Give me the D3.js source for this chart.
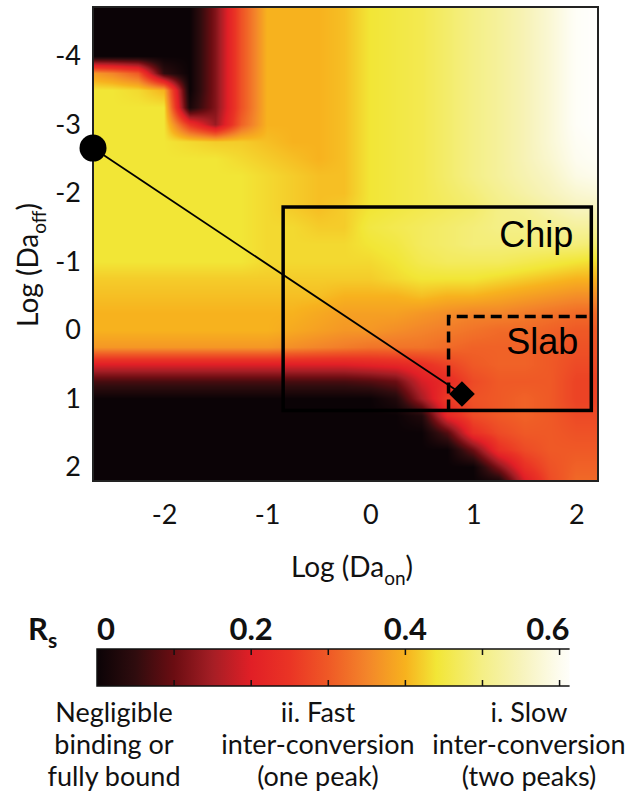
<!DOCTYPE html>
<html>
<head>
<meta charset="utf-8">
<script src="https://cdnjs.cloudflare.com/ajax/libs/d3/7.8.5/d3.min.js"></script>
<style>
  html, body { margin: 0; padding: 0; background: #fff; }
  svg { display: block; font-family: Lato, "Open Sans", sans-serif; }
</style>
</head>
<body>
<svg id="chart" width="634" height="799"></svg>
<script>
// grid nodes of the Rs map (log10 Da_on across, log10 Da_off down)
var logDaOn = [-2.75, -2.5, -2.25, -2, -1.75, -1.5, -1.25, -1, -0.75, -0.5, -0.25, 0, 0.25, 0.5, 0.75, 1, 1.25, 1.5, 1.75, 2, 2.25];
var logDaOff = [-4.75, -4.5, -4.25, -4, -3.75, -3.5, -3.25, -3, -2.75, -2.5, -2.25, -2, -1.75, -1.5, -1.25, -1, -0.75, -0.5, -0.25, 0, 0.25, 0.5, 0.75, 1, 1.25, 1.5, 1.75, 2, 2.25];
// Rs, one row per logDaOff node
var rsValues = [
  [0, 0, 0, 0, 0, 0.12, 0.29, 0.4, 0.4, 0.4, 0.41, 0.44, 0.45, 0.46, 0.48, 0.5, 0.52, 0.545, 0.575, 0.61, 0.62],
  [0, 0, 0, 0, 0, 0.12, 0.29, 0.4, 0.4, 0.4, 0.41, 0.44, 0.45, 0.46, 0.48, 0.5, 0.52, 0.545, 0.575, 0.61, 0.62],
  [0, 0, 0, 0, 0, 0.12, 0.29, 0.4, 0.4, 0.4, 0.41, 0.44, 0.45, 0.46, 0.48, 0.5, 0.52, 0.545, 0.575, 0.61, 0.62],
  [0, 0, 0, 0, 0, 0.12, 0.29, 0.4, 0.4, 0.4, 0.41, 0.44, 0.45, 0.46, 0.48, 0.5, 0.52, 0.545, 0.575, 0.61, 0.62],
  [0.38, 0.35, 0.3, 0.05, 0, 0.12, 0.29, 0.4, 0.4, 0.4, 0.41, 0.44, 0.45, 0.46, 0.48, 0.5, 0.52, 0.545, 0.575, 0.61, 0.62],
  [0.44, 0.44, 0.43, 0.4, 0, 0.12, 0.29, 0.4, 0.4, 0.4, 0.41, 0.44, 0.45, 0.46, 0.48, 0.5, 0.52, 0.545, 0.575, 0.61, 0.62],
  [0.44, 0.44, 0.44, 0.44, 0.02, 0.12, 0.29, 0.4, 0.4, 0.4, 0.41, 0.44, 0.45, 0.46, 0.48, 0.5, 0.52, 0.545, 0.575, 0.61, 0.62],
  [0.44, 0.44, 0.44, 0.44, 0.25, 0.14, 0.31, 0.4, 0.4, 0.4, 0.41, 0.44, 0.45, 0.46, 0.48, 0.5, 0.52, 0.545, 0.575, 0.61, 0.62],
  [0.44, 0.44, 0.44, 0.44, 0.43, 0.42, 0.42, 0.41, 0.4, 0.4, 0.41, 0.44, 0.45, 0.46, 0.48, 0.5, 0.52, 0.545, 0.575, 0.605, 0.615],
  [0.44, 0.44, 0.44, 0.44, 0.44, 0.44, 0.43, 0.42, 0.41, 0.4, 0.41, 0.44, 0.45, 0.46, 0.48, 0.5, 0.52, 0.545, 0.57, 0.6, 0.61],
  [0.44, 0.44, 0.44, 0.44, 0.44, 0.44, 0.44, 0.43, 0.42, 0.41, 0.41, 0.44, 0.45, 0.46, 0.48, 0.5, 0.52, 0.54, 0.56, 0.59, 0.6],
  [0.44, 0.44, 0.44, 0.44, 0.44, 0.44, 0.44, 0.43, 0.42, 0.41, 0.41, 0.44, 0.45, 0.46, 0.475, 0.49, 0.51, 0.53, 0.55, 0.57, 0.58],
  [0.44, 0.44, 0.44, 0.44, 0.44, 0.44, 0.44, 0.43, 0.42, 0.41, 0.42, 0.44, 0.45, 0.46, 0.47, 0.48, 0.5, 0.51, 0.53, 0.55, 0.55],
  [0.44, 0.44, 0.44, 0.44, 0.44, 0.44, 0.44, 0.43, 0.43, 0.42, 0.42, 0.45, 0.46, 0.47, 0.48, 0.49, 0.5, 0.5, 0.51, 0.52, 0.52],
  [0.44, 0.44, 0.44, 0.44, 0.44, 0.44, 0.44, 0.43, 0.43, 0.43, 0.43, 0.44, 0.45, 0.47, 0.48, 0.49, 0.49, 0.49, 0.49, 0.49, 0.48],
  [0.44, 0.44, 0.44, 0.44, 0.44, 0.44, 0.44, 0.43, 0.43, 0.43, 0.43, 0.43, 0.44, 0.46, 0.47, 0.47, 0.47, 0.46, 0.45, 0.44, 0.43],
  [0.42, 0.42, 0.42, 0.42, 0.42, 0.42, 0.42, 0.42, 0.42, 0.42, 0.42, 0.42, 0.43, 0.44, 0.44, 0.44, 0.43, 0.42, 0.41, 0.4, 0.4],
  [0.41, 0.41, 0.41, 0.41, 0.41, 0.41, 0.41, 0.41, 0.41, 0.41, 0.4, 0.4, 0.4, 0.41, 0.4, 0.4, 0.39, 0.38, 0.37, 0.36, 0.36],
  [0.4, 0.4, 0.4, 0.4, 0.4, 0.4, 0.4, 0.4, 0.4, 0.39, 0.38, 0.38, 0.38, 0.37, 0.36, 0.35, 0.35, 0.34, 0.33, 0.32, 0.32],
  [0.4, 0.4, 0.4, 0.4, 0.4, 0.4, 0.4, 0.4, 0.39, 0.38, 0.37, 0.37, 0.36, 0.35, 0.34, 0.33, 0.32, 0.32, 0.31, 0.3, 0.3],
  [0.37, 0.37, 0.37, 0.37, 0.37, 0.37, 0.37, 0.37, 0.36, 0.35, 0.34, 0.33, 0.33, 0.33, 0.32, 0.31, 0.31, 0.31, 0.3, 0.29, 0.29],
  [0.2, 0.2, 0.2, 0.2, 0.2, 0.2, 0.2, 0.2, 0.2, 0.2, 0.2, 0.21, 0.22, 0.24, 0.27, 0.3, 0.31, 0.31, 0.3, 0.28, 0.28],
  [0.07, 0.07, 0.07, 0.07, 0.07, 0.07, 0.07, 0.07, 0.07, 0.07, 0.07, 0.08, 0.1, 0.19, 0.23, 0.28, 0.3, 0.3, 0.3, 0.27, 0.27],
  [0, 0, 0, 0, 0, 0, 0, 0, 0, 0, 0, 0, 0.03, 0.15, 0.26, 0.29, 0.3, 0.31, 0.3, 0.27, 0.27],
  [0, 0, 0, 0, 0, 0, 0, 0, 0, 0, 0, 0, 0, 0.03, 0.22, 0.28, 0.3, 0.31, 0.3, 0.28, 0.28],
  [0, 0, 0, 0, 0, 0, 0, 0, 0, 0, 0, 0, 0, 0, 0.08, 0.24, 0.28, 0.3, 0.3, 0.29, 0.29],
  [0, 0, 0, 0, 0, 0, 0, 0, 0, 0, 0, 0, 0, 0, 0, 0.1, 0.24, 0.28, 0.3, 0.3, 0.3],
  [0, 0, 0, 0, 0, 0, 0, 0, 0, 0, 0, 0, 0, 0, 0, 0, 0.12, 0.24, 0.29, 0.31, 0.31],
  [0, 0, 0, 0, 0, 0, 0, 0, 0, 0, 0, 0, 0, 0, 0, 0, 0, 0.18, 0.28, 0.32, 0.32]
];
var xTicks = [-2, -1, 0, 1, 2];
var yTicks = [-4, -3, -2, -1, 0, 1, 2];
// colour map stops for Rs
var rsStops = [0, 0.05, 0.1, 0.15, 0.2, 0.25, 0.3, 0.35, 0.4, 0.44, 0.5, 0.55, 0.6, 0.62];
var rsColors = ['#0b0306', '#2f0c0e', '#6b0d12', '#a51e25', '#e11f26', '#ea3425', '#ef5926', '#f3852a', '#f7b21e', '#f2e636', '#f4ef86', '#f7f3bb', '#fdfcef', '#ffffff'];
var rsMinorTicks = [0.1, 0.2, 0.3, 0.4, 0.5, 0.6];
var rsLabels = [0, 0.2, 0.4, 0.6];
// boxes as [DaOn min, DaOff min, DaOn max, DaOff max] in log units
var chipBox = [-0.845, -1.8, 2.145, 1.17];
var slabBox = [0.76, -0.2, 2.145, 1.17];
var startPoint = [-2.69, -2.66];
var endPoint = [0.89, 0.93];
var regimeText = [
  ['Negligible', 'binding or', 'fully bound'],
  ['ii. Fast', 'inter-conversion', '(one peak)'],
  ['i. Slow', 'inter-conversion', '(two peaks)']
];
var regimeCenters = [114, 318, 529];

var svg = d3.select('#chart');
var x = d3.scaleLinear().domain([-2.69, 2.21]).range([93, 598]);
var y = d3.scaleLinear().domain([-4.72, 2.2]).range([7, 481]);
var color = d3.scaleLinear().domain(rsStops).range(rsColors).clamp(true);

//Bilinear lookup in the Rs grid
function rsAt(on, off) {
  var i = Math.max(0, Math.min(logDaOn.length - 2, d3.bisectRight(logDaOn, on) - 1));
  var j = Math.max(0, Math.min(logDaOff.length - 2, d3.bisectRight(logDaOff, off) - 1));
  var tx = Math.max(0, Math.min(1, (on - logDaOn[i]) / (logDaOn[i + 1] - logDaOn[i])));
  var ty = Math.max(0, Math.min(1, (off - logDaOff[j]) / (logDaOff[j + 1] - logDaOff[j])));
  var a = rsValues[j][i], b = rsValues[j][i + 1], c = rsValues[j + 1][i], d = rsValues[j + 1][i + 1];
  return a * (1 - tx) * (1 - ty) + b * tx * (1 - ty) + c * (1 - tx) * ty + d * tx * ty;
}

//Paint the map into a canvas and drop it in the svg
var x0 = x.range()[0], y0 = y.range()[0];
var w = x.range()[1] - x0, h = y.range()[1] - y0;
var canvas = document.createElement('canvas');
canvas.width = w; canvas.height = h;
var ctx = canvas.getContext('2d');
var img = ctx.createImageData(w, h);
for (var py = 0; py < h; py++) {
  var off = y.invert(y0 + py + 0.5);
  for (var px = 0; px < w; px++) {
    var c = d3.rgb(color(rsAt(x.invert(x0 + px + 0.5), off)));
    var k = (py * w + px) * 4;
    img.data[k] = c.r; img.data[k + 1] = c.g; img.data[k + 2] = c.b; img.data[k + 3] = 255;
  }
}
ctx.putImageData(img, 0, 0);
svg.append('image')
  .attr('x', x0).attr('y', y0)
  .attr('width', w).attr('height', h)
  .attr('preserveAspectRatio', 'none')
  .attr('href', canvas.toDataURL());

svg.append('rect')
  .attr('x', x0).attr('y', y0).attr('width', w).attr('height', h)
  .attr('fill', 'none').attr('stroke', '#222').attr('stroke-width', 2);

//Axes
var yAxis = d3.axisLeft(y).tickValues(yTicks).tickSize(0).tickPadding(12)
  .tickFormat(function(d) { return String(d); });
var xAxis = d3.axisBottom(x).tickValues(xTicks).tickSize(0).tickPadding(24)
  .tickFormat(function(d) { return String(d); });
var gy = svg.append('g').attr('transform', 'translate(' + x0 + ',0)').call(yAxis);
var gx = svg.append('g').attr('transform', 'translate(0,' + (y0 + h) + ')').call(xAxis);
[gy, gx].forEach(function(g) {
  g.select('.domain').remove();
  g.selectAll('text').attr('font-family', 'Lato, sans-serif').attr('font-size', 27).attr('fill', '#111');
});

var xLabel = svg.append('text')
  .attr('x', 352).attr('y', 577)
  .attr('text-anchor', 'middle').attr('font-size', 28).attr('fill', '#111');
xLabel.append('tspan').text('Log (Da');
xLabel.append('tspan').attr('font-size', 19).attr('dy', 8).text('on');
xLabel.append('tspan').attr('dy', -8).text(')');

var yLabel = svg.append('text')
  .attr('transform', 'translate(38,265) rotate(-90)')
  .attr('text-anchor', 'middle').attr('font-size', 28).attr('fill', '#111');
yLabel.append('tspan').text('Log (Da');
yLabel.append('tspan').attr('font-size', 19).attr('dy', 8).text('off');
yLabel.append('tspan').attr('dy', -8).text(')');

//Chip and slab boxes
svg.append('rect')
  .attr('x', x(chipBox[0])).attr('y', y(chipBox[1]))
  .attr('width', x(chipBox[2]) - x(chipBox[0])).attr('height', y(chipBox[3]) - y(chipBox[1]))
  .attr('fill', 'none').attr('stroke', '#000').attr('stroke-width', 3.5);
svg.append('path')
  .attr('d', 'M' + x(slabBox[0]) + ',' + y(slabBox[3]) + 'V' + y(slabBox[1]) + 'H' + x(slabBox[2]))
  .attr('fill', 'none').attr('stroke', '#000').attr('stroke-width', 3.5)
  .attr('stroke-dasharray', '11,6');
svg.append('text')
  .attr('x', x(chipBox[2]) - 18).attr('y', y(chipBox[1]) + 40)
  .attr('text-anchor', 'end').attr('font-family', '"Liberation Sans", Arial, sans-serif')
  .attr('font-size', 36).text('Chip');
svg.append('text')
  .attr('x', x(slabBox[2]) - 13).attr('y', y(slabBox[1]) + 37)
  .attr('text-anchor', 'end').attr('font-family', '"Liberation Sans", Arial, sans-serif')
  .attr('font-size', 36).text('Slab');

//Path from circle to diamond
svg.append('line')
  .attr('x1', x(startPoint[0])).attr('y1', y(startPoint[1]))
  .attr('x2', x(endPoint[0])).attr('y2', y(endPoint[1]))
  .attr('stroke', '#000').attr('stroke-width', 1.8);
svg.append('circle')
  .attr('cx', x(startPoint[0])).attr('cy', y(startPoint[1])).attr('r', 13.5)
  .attr('fill', '#000');
svg.append('path')
  .attr('d', d3.symbol(d3.symbolSquare, 330)())
  .attr('transform', 'translate(' + x(endPoint[0]) + ',' + y(endPoint[1]) + ') rotate(45)')
  .attr('fill', '#000');

//Colour bar
var cb = d3.scaleLinear().domain([0, 0.62]).range([97, 575]);
var cbTop = 649, cbBottom = 686, cbEnd = 0.613;
var grad = svg.append('defs').append('linearGradient')
  .attr('id', 'rsGrad').attr('gradientUnits', 'userSpaceOnUse')
  .attr('x1', cb(0)).attr('x2', cb(0.62)).attr('y1', 0).attr('y2', 0);
grad.selectAll('stop').data(rsStops).enter().append('stop')
  .attr('offset', function(d) { return d / 0.62; })
  .attr('stop-color', function(d, i) { return rsColors[i]; });
svg.append('rect')
  .attr('x', cb(0)).attr('y', cbTop).attr('width', cb(cbEnd) - cb(0)).attr('height', cbBottom - cbTop)
  .attr('fill', 'url(#rsGrad)');
svg.append('path')
  .attr('d', 'M' + cb(cbEnd) + ',' + cbTop + 'H' + cb(0) + 'V' + cbBottom + 'H' + cb(cbEnd))
  .attr('fill', 'none').attr('stroke', '#111').attr('stroke-width', 1.5);
svg.selectAll('.cbtick').data(rsMinorTicks).enter().append('path')
  .attr('class', 'cbtick')
  .attr('d', function(d) {
    var px = cb(d);
    return 'M' + px + ',' + cbTop + 'v6M' + px + ',' + cbBottom + 'v-6';
  })
  .attr('stroke', '#111').attr('stroke-width', 1.5);
svg.selectAll('.cblabel').data(rsLabels).enter().append('text')
  .attr('class', 'cblabel')
  .attr('x', function(d, i) { return i === 0 ? cb(0) : (i === rsLabels.length - 1 ? cb(cbEnd) : cb(d)); })
  .attr('y', 640)
  .attr('text-anchor', function(d, i) { return i === 0 ? 'start' : (i === rsLabels.length - 1 ? 'end' : 'middle'); })
  .attr('font-size', 31).attr('font-weight', 'bold').attr('fill', '#111')
  .text(function(d) { return String(d); });
var rsTitle = svg.append('text').attr('x', 28).attr('y', 640)
  .attr('font-size', 31).attr('font-weight', 'bold').attr('fill', '#111');
rsTitle.append('tspan').text('R');
rsTitle.append('tspan').attr('font-size', 21).attr('dy', 8).text('s');

//Regime descriptions under the bar
regimeText.forEach(function(lines, i) {
  svg.selectAll(null).data(lines).enter().append('text')
    .attr('x', regimeCenters[i])
    .attr('y', function(d, j) { return 722 + j * 32; })
    .attr('text-anchor', 'middle').attr('font-size', 27).attr('fill', '#111')
    .text(function(d) { return d; });
});
</script>
</body>
</html>
